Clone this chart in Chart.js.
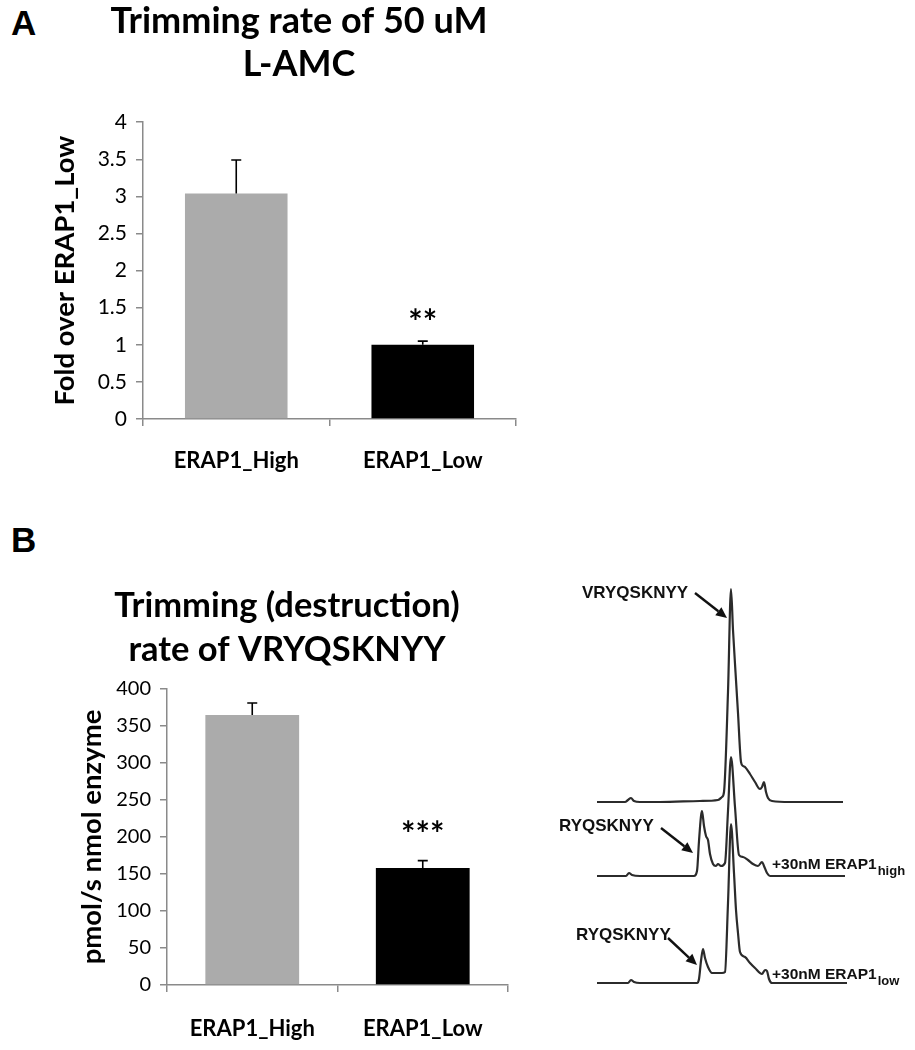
<!DOCTYPE html>
<html><head><meta charset="utf-8">
<script src="https://cdn.jsdelivr.net/npm/chart.js@4.4.1/dist/chart.umd.min.js"></script>
<style>
html,body{margin:0;padding:0;background:#fff;}
body{width:915px;height:1050px;position:relative;overflow:hidden;}
canvas{position:absolute;}
.panel{position:absolute;font-family:"Liberation Sans",Arial,sans-serif;font-weight:bold;font-size:35px;line-height:1;color:#000;}
</style></head><body>
<div class="panel" style="left:11px;top:5px">A</div>
<div class="panel" style="left:11px;top:522px">B</div>
<canvas id="cA" width="598" height="490" style="left:0;top:0"></canvas>
<canvas id="cB" width="574" height="530" style="left:0;top:520px"></canvas>
<canvas id="cC" width="375" height="460" style="left:540px;top:560px"></canvas>
<script>
// ---------- data ----------
const categories = ['ERAP1_High', 'ERAP1_Low'];
const foldValues = [3.04, 1.0];
const foldErrors = [0.45, 0.05];
const foldSignif = ['', '**'];
const rateValues = [365, 158];
const rateErrors = [16, 10];
const rateSignif = ['', '***'];
const barColors = ['#ababab', '#000000'];

// chromatograms: retention time (min) and absorbance (mAU above baseline)
const ctrlTime = [0, 1.5, 2.8, 3.1, 3.4, 3.7, 4.3, 6.3, 10.3, 12.1, 12.5, 12.7, 13.1, 13.4, 13.6, 13.85, 14.1, 14.4, 14.6, 14.8, 15.3, 15.8, 16.3, 16.5, 16.7, 16.9, 17.1, 17.5, 19.3, 22.3, 24.6];
const ctrlSignal = [0, 0, 0, 2, 4, 1, 0, 0, 1, 2, 5, 10, 110, 213, 172, 130, 89, 40, 36, 35, 28, 20, 13, 15, 20, 10, 4, 1, 0, 0, 0];
const highTime = [0, 2.9, 3.2, 3.5, 4.3, 6.3, 9.7, 10.0, 10.2, 10.4, 10.5, 10.7, 10.9, 11.1, 11.3, 11.6, 11.9, 12.1, 12.4, 12.8, 13.1, 13.4, 13.8, 14.2, 14.6, 15.1, 15.6, 16.1, 16.5, 16.7, 17.0, 17.3, 20.3, 24.8];
const highSignal = [0, 0, 3, 1, 0, 0, 0, 5, 35, 60, 65, 50, 40, 36, 22, 12, 10, 12, 10, 13, 65, 119, 69, 21, 19, 16, 12, 10, 14, 10, 3, 0, 0, 0];
const lowTime = [0, 3.1, 3.4, 3.7, 4.3, 10.0, 10.2, 10.4, 10.6, 10.8, 11.1, 11.5, 12.1, 12.5, 12.8, 13.1, 13.4, 13.7, 13.9, 14.1, 14.3, 14.8, 15.3, 15.8, 16.5, 16.8, 17.0, 17.2, 17.5, 20.3, 25.0];
const lowSignal = [0, 0, 3, 1, 0, 0, 4, 22, 34, 25, 16, 10, 10, 10, 11, 80, 159, 110, 73, 50, 31, 26, 20, 15, 9, 13, 12, 4, 0, 0, 0];
const traceOffsets = [181, 107, 0];

// ---------- plugins ----------
const errorBars = {
  id: 'errorBars',
  afterDatasetsDraw(chart, args, o) {
    const {ctx} = chart, y = chart.scales.y;
    const ds = chart.data.datasets[0], meta = chart.getDatasetMeta(0);
    ctx.save();
    ctx.strokeStyle = '#000'; ctx.lineWidth = 1.6;
    meta.data.forEach((bar, i) => {
      const v = ds.data[i], e = o.errors[i];
      const xp = bar.x, y0 = y.getPixelForValue(v), y1 = y.getPixelForValue(v + e);
      ctx.beginPath();
      ctx.moveTo(xp, y0); ctx.lineTo(xp, y1);
      ctx.moveTo(xp - o.cap, y1); ctx.lineTo(xp + o.cap, y1);
      ctx.stroke();
      if (o.signif[i]) {
        ctx.fillStyle = '#000';
        ctx.font = 'bold 34px Lato';
        ctx.textAlign = 'center'; ctx.textBaseline = 'alphabetic';
        ctx.fillText(o.signif[i], xp, y1 - o.gap);
      }
    });
    ctx.restore();
  }
};

function barChart(id, values, errors, signif, opts) {
  return new Chart(document.getElementById(id), {
    type: 'bar',
    data: {labels: categories, datasets: [{data: values, backgroundColor: barColors, borderWidth: 0,
      categoryPercentage: 1, barPercentage: 0.55}]},
    plugins: [errorBars],
    options: {
      responsive: false, animation: false,
      layout: {padding: 0},
      plugins: {
        legend: {display: false}, tooltip: {enabled: false},
        title: {display: true, text: opts.title, color: '#000',
          font: {family: 'Lato', size: opts.titleSize, weight: 'bold', lineHeight: opts.titleLH},
          padding: {top: opts.titleTop, bottom: opts.titleBottom}},
        errorBars: {errors: errors, signif: signif, cap: 5, gap: opts.sigGap}
      },
      scales: {
        x: {
          grid: {display: true, drawOnChartArea: false, tickLength: 7, color: '#8a8a8a', lineWidth: 1.5, offset: true},
          border: {color: '#8a8a8a', width: 1.5},
          ticks: {color: '#000', font: {family: 'Lato', size: 22, weight: 'bold'}, padding: opts.xPad, maxRotation: 0},
          afterFit: s => { s.height = opts.xHeight; }
        },
        y: {
          min: 0, max: opts.max,
          ticks: {stepSize: opts.step, color: '#000', font: {family: 'Lato', size: opts.tickSize}, padding: 9,
            callback: v => String(+v.toFixed(2))},
          grid: {display: true, drawOnChartArea: false, tickLength: 7, color: '#8a8a8a', lineWidth: 1.5},
          border: {color: '#8a8a8a', width: 1.5},
          title: {display: true, text: opts.yTitle, color: '#000',
            font: {family: 'Lato', size: 27.5, weight: 'bold', lineHeight: 1.2},
            padding: {top: opts.yTitlePad, bottom: 0}},
          afterFit: s => { s.width = opts.yWidth; }
        },
        yR: {
          type: 'linear', position: 'right', display: true,
          grid: {display: false}, border: {display: false}, ticks: {display: false},
          afterFit: s => { s.width = opts.padRight; }
        }
      }
    }
  });
}

barChart('cA', foldValues, foldErrors, foldSignif, {
  title: ['Trimming rate of 50 uM', 'L-AMC'], titleSize: 36, titleLH: 1.19, titleTop: 0, titleBottom: 36.5,
  padRight: 82, xHeight: 71, yWidth: 143, max: 4, step: 0.5, tickSize: 21, xPad: 22,
  yTitle: 'Fold over ERAP1_Low', yTitlePad: 48.5, sigGap: 7
});
barChart('cB', rateValues, rateErrors, rateSignif, {
  title: ['Trimming (destruction)', 'rate of VRYQSKNYY'], titleSize: 34.5, titleLH: 1.275, titleTop: 64, titleBottom: 17,
  padRight: 66, xHeight: 65, yWidth: 167, max: 400, step: 50, tickSize: 20, xPad: 24,
  yTitle: 'pmol/s nmol enzyme', yTitlePad: 75.5, sigGap: 15
});

// ---------- chromatograms ----------
const peakNotes = {
  id: 'peakNotes',
  afterDatasetsDraw(chart, args, o) {
    const {ctx} = chart, x = chart.scales.x, y = chart.scales.y;
    const P = (t, s) => [x.getPixelForValue(t), y.getPixelForValue(s)];
    ctx.save();
    ctx.fillStyle = '#111'; ctx.strokeStyle = '#111';
    ctx.textBaseline = 'middle'; ctx.textAlign = 'left';
    o.peaks.forEach(p => {
      ctx.font = 'bold 17px "Liberation Sans", Arial, sans-serif';
      const [tx, ty] = P(p.at[0], p.at[1]);
      ctx.fillText(p.text, tx, ty);
      const [x1, y1] = P(p.from[0], p.from[1]), [x2, y2] = P(p.to[0], p.to[1]);
      const ang = Math.atan2(y2 - y1, x2 - x1), L = 11, W = 5;
      const bx = x2 - L * Math.cos(ang), by = y2 - L * Math.sin(ang);
      ctx.lineWidth = 2.4;
      ctx.beginPath(); ctx.moveTo(x1, y1); ctx.lineTo(bx, by); ctx.stroke();
      ctx.beginPath(); ctx.moveTo(x2, y2);
      ctx.lineTo(bx + W * Math.sin(ang), by - W * Math.cos(ang));
      ctx.lineTo(bx - W * Math.sin(ang), by + W * Math.cos(ang));
      ctx.closePath(); ctx.fill();
    });
    o.conditions.forEach(c => {
      const [tx, ty] = P(c.at[0], c.at[1]);
      ctx.font = 'bold 15.5px "Liberation Sans", Arial, sans-serif';
      ctx.fillText(c.main, tx, ty);
      const w = ctx.measureText(c.main).width;
      ctx.font = 'bold 13px "Liberation Sans", Arial, sans-serif';
      ctx.fillText(c.sub, tx + w + 1, ty + 6);
    });
    ctx.restore();
  }
};

const traces = [[ctrlTime, ctrlSignal], [highTime, highSignal], [lowTime, lowSignal]];
new Chart(document.getElementById('cC'), {
  type: 'line',
  data: {datasets: traces.map((tr, k) => ({
    data: tr[0].map((t, i) => ({x: t, y: tr[1][i] + traceOffsets[k]})),
    borderColor: '#2b2b2b', borderWidth: 2.2, pointRadius: 0, fill: false,
    cubicInterpolationMode: 'monotone'
  }))},
  plugins: [peakNotes],
  options: {
    responsive: false, animation: false,
    layout: {padding: 0},
    plugins: {
      legend: {display: false}, tooltip: {enabled: false},
      peakNotes: {
        peaks: [
          {text: 'VRYQSKNYY', at: [-1.5, 390], from: [9.8, 390], to: [13.0, 365]},
          {text: 'RYQSKNYY', at: [-3.8, 157], from: [6.4, 155], to: [9.6, 130]},
          {text: 'RYQSKNYY', at: [-2.1, 48], from: [7.1, 45], to: [10.0, 18]}
        ],
        conditions: [
          {main: '+30nM ERAP1', sub: 'high', at: [17.5, 118]},
          {main: '+30nM ERAP1', sub: 'low', at: [17.5, 8]}
        ]
      }
    },
    scales: {
      x: {type: 'linear', display: false, min: -5.7, max: 31.8},
      y: {display: false, min: -37, max: 423}
    }
  }
});
</script>
</body></html>
